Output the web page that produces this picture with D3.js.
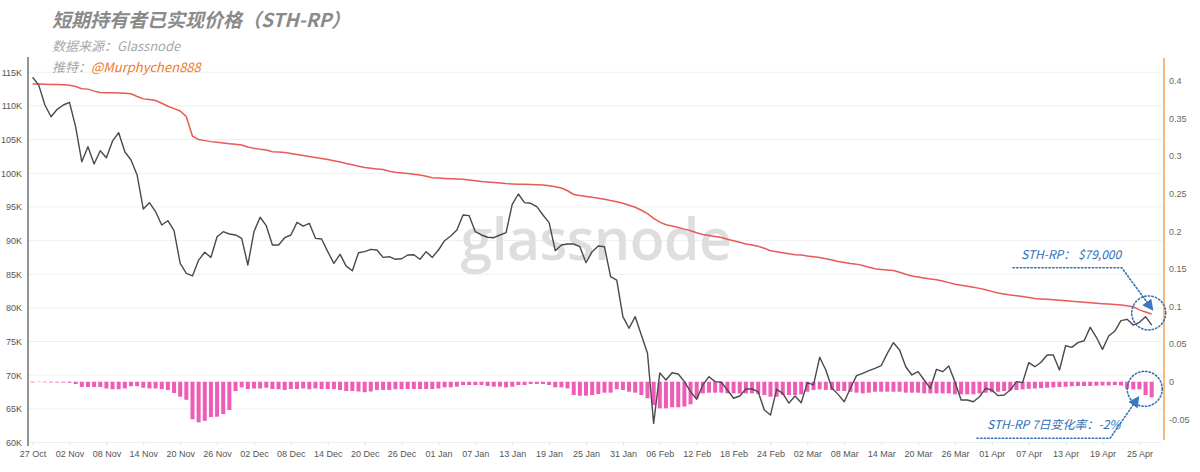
<!DOCTYPE html>
<html><head><meta charset="utf-8">
<script src="https://cdn.jsdelivr.net/npm/d3@7"></script>
<style>body{margin:0;background:#fff}svg{display:block}</style>
</head><body>
<svg id="c" width="1200" height="472"></svg>
<script>
// ---------- DATA ----------
const startDate = "2025-10-27";
// BTC price (K USD)
const price = [114.26,113.1,110.14,108.4,109.5,110.14,110.54,106.9,101.7,103.95,
 101.38,103.35,102.3,104.8,106.03,103.2,101.97,99.74,94.69,95.63,
 94.29,92.31,92.95,91.47,86.62,85.14,84.74,87.1,88.26,87.5,
 90.57,91.32,90.98,90.83,90.33,86.37,91.32,93.46,92.21,89.34,
 89.34,90.43,90.83,92.71,92.16,92.56,90.33,90.23,88.35,86.62,
 87.96,86.2,85.52,88.2,88.35,88.7,88.6,87.5,87.6,87.22,
 87.3,87.86,87.9,87.22,88.35,87.5,88.6,89.98,90.68,91.57,
 93.8,93.7,91.32,90.83,90.49,90.43,90.83,91.17,95.39,96.92,
 95.63,95.54,95.04,93.8,92.66,88.5,89.34,89.49,89.49,89.09,
 86.71,88.35,89.2,89.09,84.63,84.14,78.69,76.97,78.69,75.97,
 73.25,62.85,70.35,69.28,70.37,70.18,69.04,67.55,66.42,68.55,
 69.78,69.04,68.95,67.8,66.57,66.91,67.95,67.95,67.55,64.83,
 64.08,67.9,67.3,65.85,66.9,65.9,68.9,68.55,72.66,70.77,
 68.05,67.15,66.06,68.05,69.93,70.28,70.67,71.02,71.41,73.25,
 74.83,73.74,71.26,70.03,70.52,69.28,68.05,70.87,70.52,71.37,
 69.04,66.32,66.32,66.06,66.8,68.05,67.8,66.96,67.06,67.8,
 69.04,68.9,71.86,71.26,71.92,73.0,73.0,70.77,74.38,74.14,
 74.83,75.12,77.11,75.63,73.84,75.82,76.56,78.1,78.3,77.45,
 77.86,78.69,77.45];
// STH realized price (K USD)
const sthRP = [113.26,113.25,113.22,113.2,113.18,113.15,113.07,112.9,112.57,112.5,
 112.2,112.0,111.97,111.95,111.92,111.9,111.8,111.4,111.05,110.95,
 110.8,110.4,109.95,109.6,109.25,108.4,105.5,105.0,104.85,104.7,
 104.6,104.5,104.4,104.3,104.2,103.9,103.7,103.55,103.46,103.2,
 103.15,103.1,102.95,102.8,102.65,102.5,102.35,102.2,102.05,101.85,
 101.67,101.45,101.27,101.05,100.85,100.75,100.65,100.55,100.3,100.15,
 100.05,99.95,99.85,99.74,99.55,99.34,99.28,99.22,99.18,99.14,
 99.11,99.0,98.88,98.77,98.7,98.62,98.55,98.47,98.42,98.38,
 98.35,98.32,98.29,98.26,98.15,98.0,97.8,97.4,96.85,96.7,
 96.55,96.42,96.3,96.15,95.95,95.78,95.55,95.25,94.95,94.5,
 94.0,93.3,92.75,92.35,92.15,91.95,91.7,91.45,91.15,90.9,
 90.75,90.6,90.45,90.2,89.98,89.75,89.5,89.35,89.15,88.85,
 88.5,88.35,88.2,88.05,87.9,87.85,87.7,87.6,87.5,87.3,
 87.1,86.9,86.75,86.6,86.5,86.3,86.05,85.8,85.7,85.62,
 85.55,85.3,85.0,84.75,84.6,84.45,84.3,84.18,84.0,83.75,
 83.5,83.35,83.2,83.05,82.9,82.7,82.45,82.2,82.05,81.9,
 81.82,81.7,81.55,81.4,81.33,81.27,81.2,81.12,81.05,80.97,
 80.92,80.85,80.78,80.7,80.62,80.56,80.5,80.44,80.3,80.17,
 79.7,79.4,79.1];
// STH-RP 7-day change rate
const change7d = [-0.001,-0.0005,-0.0008,-0.001,-0.001,-0.0012,-0.0015,-0.003,-0.007,-0.007,
 -0.007,-0.007,-0.009,-0.01,-0.01,-0.009,-0.006,-0.006,-0.008,-0.009,
 -0.009,-0.01,-0.011,-0.015,-0.02,-0.024,-0.05,-0.054,-0.052,-0.047,
 -0.0465,-0.043,-0.0376,-0.0124,-0.0075,-0.0097,-0.009,-0.009,-0.008,-0.0097,
 -0.01,-0.011,-0.0097,-0.0097,-0.009,-0.01,-0.009,-0.0097,-0.0097,-0.01,
 -0.011,-0.0124,-0.0124,-0.013,-0.014,-0.013,-0.011,-0.011,-0.011,-0.01,
 -0.01,-0.0097,-0.0097,-0.0097,-0.0097,-0.0097,-0.009,-0.0075,-0.0075,-0.0066,
 -0.0044,-0.0044,-0.0044,-0.0044,-0.0057,-0.0066,-0.0066,-0.0075,-0.0066,-0.0044,
 -0.0044,-0.003,-0.003,-0.003,-0.0044,-0.0075,-0.0075,-0.0089,-0.0177,-0.0186,
 -0.0186,-0.0177,-0.0164,-0.0146,-0.0146,-0.01,-0.011,-0.0133,-0.0146,-0.0177,
 -0.022,-0.031,-0.0354,-0.0354,-0.034,-0.034,-0.033,-0.03,-0.022,-0.0155,
 -0.0146,-0.0146,-0.0146,-0.0155,-0.0155,-0.0155,-0.0155,-0.0155,-0.0164,-0.0177,
 -0.02,-0.02,-0.0177,-0.0177,-0.0177,-0.0168,-0.0133,-0.011,-0.0102,-0.011,
 -0.011,-0.0124,-0.0124,-0.0133,-0.0146,-0.0155,-0.0146,-0.0133,-0.0133,-0.0133,
 -0.0133,-0.0133,-0.0146,-0.0146,-0.0146,-0.0155,-0.0155,-0.0155,-0.0155,-0.0155,
 -0.0168,-0.0168,-0.0168,-0.0168,-0.0155,-0.0146,-0.014,-0.0133,-0.0124,-0.0115,
 -0.011,-0.0102,-0.0095,-0.009,-0.0085,-0.008,-0.0075,-0.007,-0.0066,-0.006,
 -0.0057,-0.0057,-0.0057,-0.0053,-0.005,-0.005,-0.0044,-0.005,-0.0093,-0.0102,
 -0.0102,-0.0177,-0.0208];
const leftTicks = [60,65,70,75,80,85,90,95,100,105,110,115];
const rightTicks = [-0.05,0,0.05,0.1,0.15,0.2,0.25,0.3,0.35,0.4];
const xTickEveryDays = 6;
const titleText = "短期持有者已实现价格（STH-RP）";
const sourceText = "数据来源：Glassnode";
const twitterLabel = "推特：";
const twitterHandle = "@Murphychen888";
const noteRP = "STH-RP： $79,000";
const noteChg = "STH-RP 7日变化率：-2%";

// ---------- CHART ----------
const svg = d3.select("#c");
const DAY = 864e5;
const t0 = d3.utcParse("%Y-%m-%d")(startDate);
const dates = price.map((_, i) => d3.utcDay.offset(t0, i));
const tLast = dates[dates.length - 1];
const L = 28, R = 1164;

const x = d3.scaleUtc().domain([new Date(+t0 - 0.75 * DAY), new Date(+tLast + 2 * DAY)]).range([L, R]);
const yL = d3.scaleLinear().domain([60, 115]).range([442.5, 72.3]);
const yR = d3.scaleLinear().domain([0, 0.4]).range([381.7, 80.7]);

const numFont = "'Liberation Sans', Arial, Helvetica, sans-serif";
const cjkFont = "'Noto Sans CJK SC', 'Liberation Sans', sans-serif";

// gridlines
svg.append("g").selectAll("line").data(leftTicks).join("line")
  .attr("x1", L).attr("x2", R - 2)
  .attr("y1", d => yL(d)).attr("y2", d => yL(d))
  .attr("stroke", "#efefef").attr("stroke-width", 1);

// watermark
svg.append("text").attr("x", 596).attr("y", 260).attr("text-anchor", "middle")
  .attr("font-family", "'Open Sans', 'Noto Sans', sans-serif").attr("font-size", 57)
  .attr("font-weight", 600).attr("letter-spacing", -0.5)
  .attr("fill", "#dedede").text("glassnode");

// bars
const bw = 4;
svg.append("g").selectAll("rect").data(change7d).join("rect")
  .attr("x", (d, i) => x(dates[i]) - bw / 2)
  .attr("width", bw)
  .attr("y", d => Math.min(yR(0), yR(d)))
  .attr("height", d => Math.abs(yR(d) - yR(0)))
  .attr("fill", "#ef5cb6");

// lines
const line = d3.line().x((d, i) => x(dates[i])).y(d => yL(d));
svg.append("path").datum(sthRP).attr("d", line)
  .attr("fill", "none").attr("stroke", "#e85a55").attr("stroke-width", 1.5);
svg.append("path").datum(price).attr("d", line)
  .attr("fill", "none").attr("stroke", "#4a4a4a").attr("stroke-width", 1.4).attr("stroke-linejoin", "round");

// axes
const gL = svg.append("g").attr("transform", `translate(${L},0)`)
  .call(d3.axisLeft(yL).tickValues(leftTicks).tickFormat(d => d + "K").tickSize(0).tickPadding(6));
gL.select(".domain").remove();
gL.selectAll("text").attr("font-family", numFont).attr("font-size", 9).attr("fill", "#555");
svg.append("line").attr("x1", L).attr("x2", L).attr("y1", 57).attr("y2", 446)
  .attr("stroke", "#7a7a7a").attr("stroke-width", 1.6);

const gR = svg.append("g").attr("transform", `translate(${R},0)`)
  .call(d3.axisRight(yR).tickValues(rightTicks).tickFormat(d => String(+d.toFixed(2))).tickSize(0).tickPadding(5));
gR.select(".domain").remove();
gR.selectAll("text").attr("font-family", numFont).attr("font-size", 9).attr("fill", "#666");
svg.append("line").attr("x1", R).attr("x2", R).attr("y1", 58).attr("y2", 440)
  .attr("stroke", "#f4a860").attr("stroke-width", 1.6);

const xTicks = d3.range(0, dates.length, xTickEveryDays).map(i => dates[i]);
const gX = svg.append("g").attr("transform", `translate(0,${yL(60)})`)
  .call(d3.axisBottom(x).tickValues(xTicks).tickFormat(d3.utcFormat("%d %b")).tickSize(3).tickPadding(5));
gX.select(".domain").remove();
gX.selectAll(".tick line").attr("stroke", "#e2e2e2");
gX.selectAll("text").attr("font-family", numFont).attr("font-size", 9).attr("fill", "#555");

// titles
svg.append("text").attr("x", 52).attr("y", 27).attr("font-family", cjkFont)
  .attr("font-size", 19).attr("font-weight", "bold").attr("font-style", "italic")
  .attr("fill", "#8a8a8a").text(titleText);
svg.append("text").attr("x", 52).attr("y", 51).attr("font-family", cjkFont)
  .attr("font-size", 13).attr("font-style", "italic").attr("fill", "#a8a8a8").text(sourceText);
const tw = svg.append("text").attr("x", 52).attr("y", 72).attr("font-family", cjkFont)
  .attr("font-size", 13).attr("font-style", "italic");
tw.append("tspan").attr("fill", "#a8a8a8").text(twitterLabel);
tw.append("tspan").attr("fill", "#f07a1c").text(twitterHandle);

// annotations
const blue = "#2f6fb8";
const defs = svg.append("defs");
defs.append("marker").attr("id", "ah").attr("viewBox", "0 0 10 10").attr("refX", 9).attr("refY", 5)
  .attr("markerWidth", 7).attr("markerHeight", 7).attr("orient", "auto-start-reverse")
  .append("path").attr("d", "M0,0L10,5L0,10z").attr("fill", "#3b78c2");

const lastI = dates.length - 1;
const cx1 = x(tLast) - 3, cy1 = yL(sthRP[lastI]) - 1;
const cx2 = x(tLast) - 7, cy2 = yR(change7d[lastI]) - 8.5;
const dot = sel => sel.attr("fill", "none").attr("stroke", "#3a70b4").attr("stroke-width", 1.6)
  .attr("stroke-dasharray", "1.4 2.2").attr("stroke-linecap", "round");

svg.append("circle").attr("cx", cx1).attr("cy", cy1).attr("r", 17).call(dot);
svg.append("circle").attr("cx", cx2).attr("cy", cy2).attr("r", 17.5).call(dot);

svg.append("text").attr("x", 1021).attr("y", 259).attr("font-family", cjkFont)
  .attr("font-size", 12).attr("font-style", "italic").attr("fill", blue).text(noteRP);
svg.append("path").attr("d", `M1013,267.7L1121.7,267.7L${cx1 + 4},${cy1 - 3}`).call(dot)
  .attr("marker-end", "url(#ah)");

svg.append("text").attr("x", 987).attr("y", 429).attr("font-family", cjkFont)
  .attr("font-size", 12).attr("font-style", "italic").attr("fill", blue).text(noteChg);
svg.append("path").attr("d", `M977,438.3L1110,438.3L${cx2 - 6},${cy2 + 8}`).call(dot)
  .attr("marker-end", "url(#ah)");
</script>
</body></html>
